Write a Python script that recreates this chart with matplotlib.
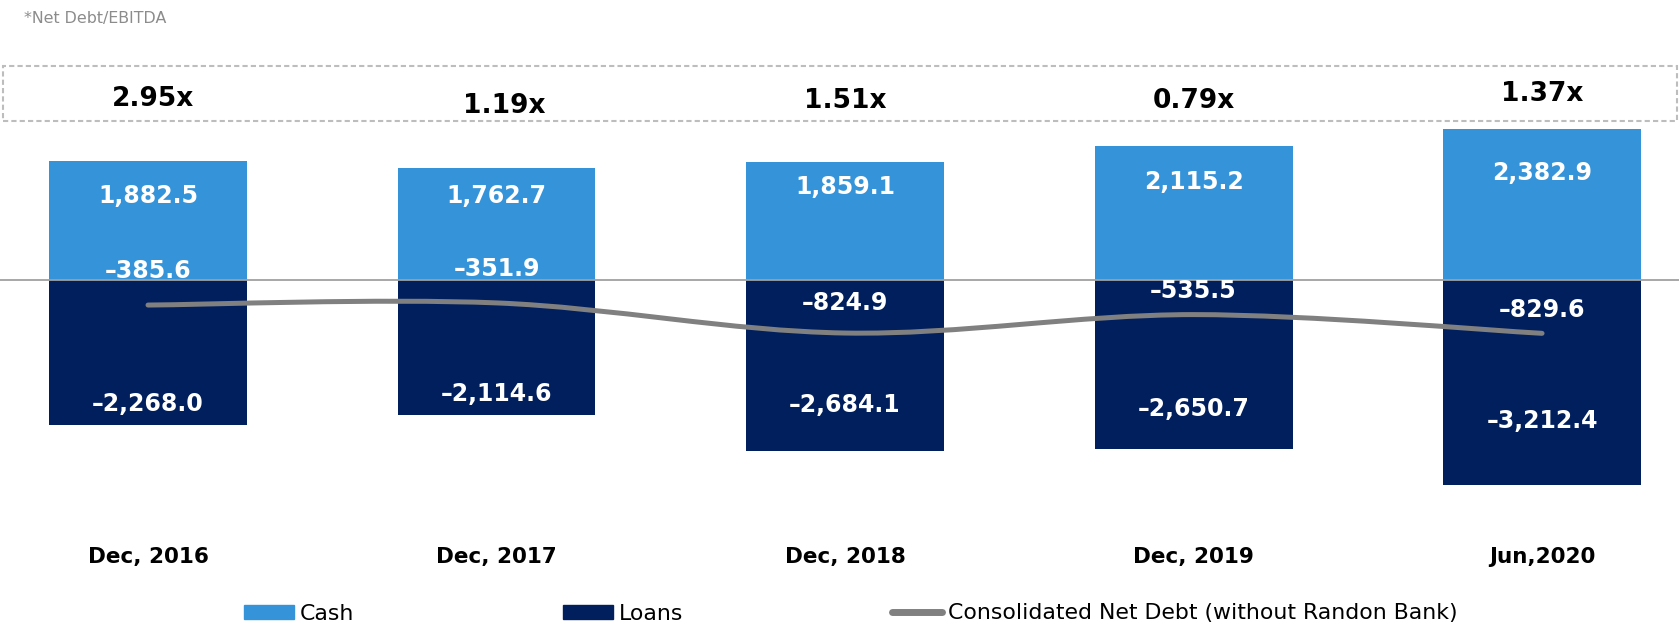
import matplotlib
matplotlib.use("Agg")
import matplotlib.pyplot as plt
import numpy as np
from matplotlib.lines import Line2D
from matplotlib.patches import Patch, PathPatch, Rectangle
from matplotlib.path import Path
from matplotlib.transforms import blended_transform_factory

# data (R$ million)
periods = ["Dec, 2016", "Dec, 2017", "Dec, 2018", "Dec, 2019", "Jun,2020"]
cash = [1882.5, 1762.7, 1859.1, 2115.2, 2382.9]
loans = [-2268.0, -2114.6, -2684.1, -2650.7, -3212.4]
net_debt = [-385.6, -351.9, -824.9, -535.5, -829.6]
leverage = ["2.95x", "1.19x", "1.51x", "0.79x", "1.37x"]

CASH_CLR = "#3594d9"
LOAN_CLR = "#011f5d"
LINE_CLR = "#808080"

# label nudges in pixels (labels were placed by hand in the original)
cash_lbl_dy = [35, 28, 25, 36, 44]
loan_lbl_dy = [21, 21, 46, 40, 64]
net_lbl_dy = [34, 34, 30, 24, 23]
ratio_px = [98.5, 106, 100.7, 100.7, 94]
ratio_dx = [4.5, 7.5, 0, 0, 0]

W, H = 1679, 622


def fmt(v):
    # the deck uses an en dash for negatives
    return f"{v:,.1f}".replace("-", "\u2013")


def smooth_path(xs, ys):
    # catmull-rom style bezier, like the office "smoothed line"
    pts = np.column_stack([xs, ys]).astype(float)
    n = len(pts)
    verts = [pts[0]]
    codes = [Path.MOVETO]
    for i in range(n - 1):
        p0 = pts[max(i - 1, 0)]
        p1 = pts[i]
        p2 = pts[i + 1]
        p3 = pts[min(i + 2, n - 1)]
        verts += [p1 + (p2 - p0) / 6, p2 - (p3 - p1) / 6, p2]
        codes += [Path.CURVE4] * 3
    return Path(verts, codes)


fig = plt.figure(figsize=(W / 100, H / 100), dpi=100)
ax = fig.add_axes([0, 0, 1, 1])
ax.set_axis_off()

x = np.arange(len(periods))
ax.bar(x, cash, width=0.568, color=CASH_CLR, zorder=2)
ax.bar(x, loans, width=0.568, color=LOAN_CLR, zorder=2)
ax.set_xlim(-0.4247, 4.393)
ax.set_ylim(-5362, 4404)
ax.axhline(0, color="#a0a0a0", lw=1.3, zorder=3)

ax.add_patch(PathPatch(smooth_path(x, net_debt), facecolor="none",
                       edgecolor=LINE_CLR, lw=3.6, capstyle="round",
                       zorder=4))

lbl = dict(ha="center", va="center", color="white", fontsize=17,
           fontweight="bold", textcoords="offset pixels", zorder=5)
for i in range(len(periods)):
    ax.annotate(fmt(cash[i]), (x[i], cash[i]),
                xytext=(0, -cash_lbl_dy[i]), **lbl)
    ax.annotate(fmt(loans[i]), (x[i], loans[i]),
                xytext=(0, loan_lbl_dy[i]), **lbl)
    ax.annotate(fmt(net_debt[i]), (x[i], net_debt[i]),
                xytext=(0, net_lbl_dy[i]), **lbl)

trans = blended_transform_factory(ax.transData, ax.transAxes)
for i in range(len(periods)):
    ax.annotate(leverage[i], (x[i], 1 - ratio_px[i] / H), xycoords=trans,
                xytext=(ratio_dx[i], 0), textcoords="offset pixels",
                ha="center", va="center", fontsize=19, fontweight="bold",
                color="black")
    ax.text(x[i], 1 - 557 / H, periods[i], transform=trans,
            ha="center", va="center", fontsize=15.5, fontweight="bold",
            color="black")

# dashed frame around the leverage ratios
ax.add_patch(Rectangle((3 / W, 1 - 121 / H), (1677 - 3) / W, 55 / H,
                       transform=ax.transAxes, fill=False,
                       edgecolor="#bdbdbd", lw=1.5,
                       linestyle=(0, (2.5, 1.5)), clip_on=False))

fig.text(23.5 / W, 1 - 18.5 / H, "*Net Debt/EBITDA", ha="left",
         va="center", fontsize=11.4, color="#8c8c8c")

handles = [Patch(color=CASH_CLR), Patch(color=LOAN_CLR),
           Line2D([], [], color=LINE_CLR, lw=5, solid_capstyle="round")]
fig.legend(handles, ["Cash", "Loans",
                     "Consolidated Net Debt (without Randon Bank)"],
           loc="center left", bbox_to_anchor=(244 / W, 8.5 / H), ncol=3,
           frameon=False, borderpad=0, borderaxespad=0, fontsize=15.8,
           handlelength=2.28, handleheight=0.6, handletextpad=0.27,
           columnspacing=9.5)

fig.savefig("out.png", dpi=100)
